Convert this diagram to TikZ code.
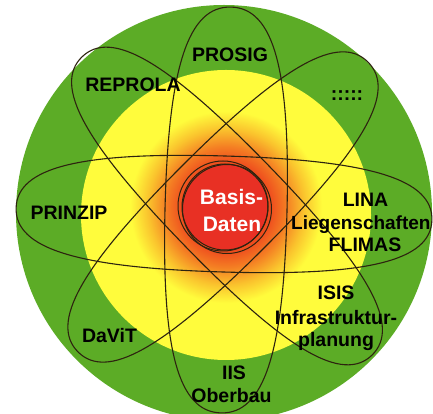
\documentclass[tikz,border=0pt]{standalone}
\usepackage{fontspec}
\setmainfont{Liberation Sans}
\definecolor{greenc}{RGB}{92,172,38}
\definecolor{yellowc}{RGB}{255,252,60}
\definecolor{redc}{RGB}{232,48,36}
\definecolor{glowA}{RGB}{238,75,30}
\definecolor{glowB}{RGB}{244,125,35}
\definecolor{glowC}{RGB}{250,195,45}
\definecolor{linec}{RGB}{45,35,15}
\pgfdeclareradialshading{glow}{\pgfpoint{0bp}{0bp}}{color(0bp)=(glowA); color(11bp)=(glowA); color(15bp)=(glowB); color(19.5bp)=(glowC); color(24bp)=(yellowc); color(50bp)=(yellowc)}
\tikzset{
  orbitline/.style={draw=linec, line width=1.1pt, line join=round},
  ringline/.style={draw=linec, line width=1pt},
  lbl/.style={font=\bfseries\fontsize{19.5}{22}\selectfont, text=black, inner sep=0pt, anchor=base},
  wlbl/.style={font=\bfseries\fontsize{21}{24}\selectfont, text=white, inner sep=0pt, anchor=base}
}
\newcommand{\orbit}[5]{%
  \draw[orbitline, shift={(#1,#2)}, rotate=#3]
   (#4,0) .. controls (#4,{0.7*#5}) and ({0.7*#4},#5) .. (0,#5)
   .. controls ({-0.7*#4},#5) and (-#4,{0.7*#5}) .. (-#4,0)
   .. controls (-#4,{-0.7*#5}) and ({-0.7*#4},-#5) .. (0,-#5)
   .. controls ({0.7*#4},-#5) and (#4,{-0.7*#5}) .. (#4,0) -- cycle;}
\begin{document}
\begin{tikzpicture}[x=1pt,y=1pt]
\useasboundingbox (0,0) rectangle (433,414);
\fill[white] (0,0) rectangle (433,414);
\clip (0,0) rectangle (433,414);
% background discs
\fill[greenc] (224,201) circle (208);
\fill[yellowc] (226,199) circle (145);
\shade[shading=glow] (226,207) circle (100);
\fill[redc] (225,207) circle (43);
% orbits
\orbit{226}{204}{88.6}{203}{61}
\orbit{224}{200}{-1.7}{208}{58}
\orbit{223}{207}{45}{205}{58}
\orbit{227}{208}{134.2}{208}{58}
% rings round the core
\draw[ringline] (225,207) circle (43);
\draw[ringline] (223,208) circle (45);
\draw[ringline] (227,205) circle (44.5);
% labels
\node[lbl] (prosig) at (230,352) {PROSIG};
\node[lbl] (reprola) at (133,322) {REPROLA};
\node[lbl] (dots) at (347,313) {:::::};
\node[lbl] (prinzip) at (69,194) {PRINZIP};
\node[lbl] (lina) at (365.5,207) {LINA};
\node[lbl, anchor=base west, font=\bfseries\fontsize{19}{22}\selectfont] (liegen) at (291,184) {Liegenschaften};
\node[lbl] (flimas) at (365,162) {FLIMAS};
\node[lbl] (isis) at (336,114) {ISIS};
\node[lbl] (infra) at (336,89) {Infrastruktur-};
\node[lbl] (planung) at (336,67) {planung};
\node[lbl] (davit) at (109.5,71) {DaViT};
\node[lbl] (iis) at (234,34) {IIS};
\node[lbl] (oberbau) at (231.5,11) {Oberbau};
\node[wlbl] (basis) at (231.5,209) {Basis-};
\node[wlbl] (daten) at (232,182) {Daten};
\end{tikzpicture}
\end{document}
